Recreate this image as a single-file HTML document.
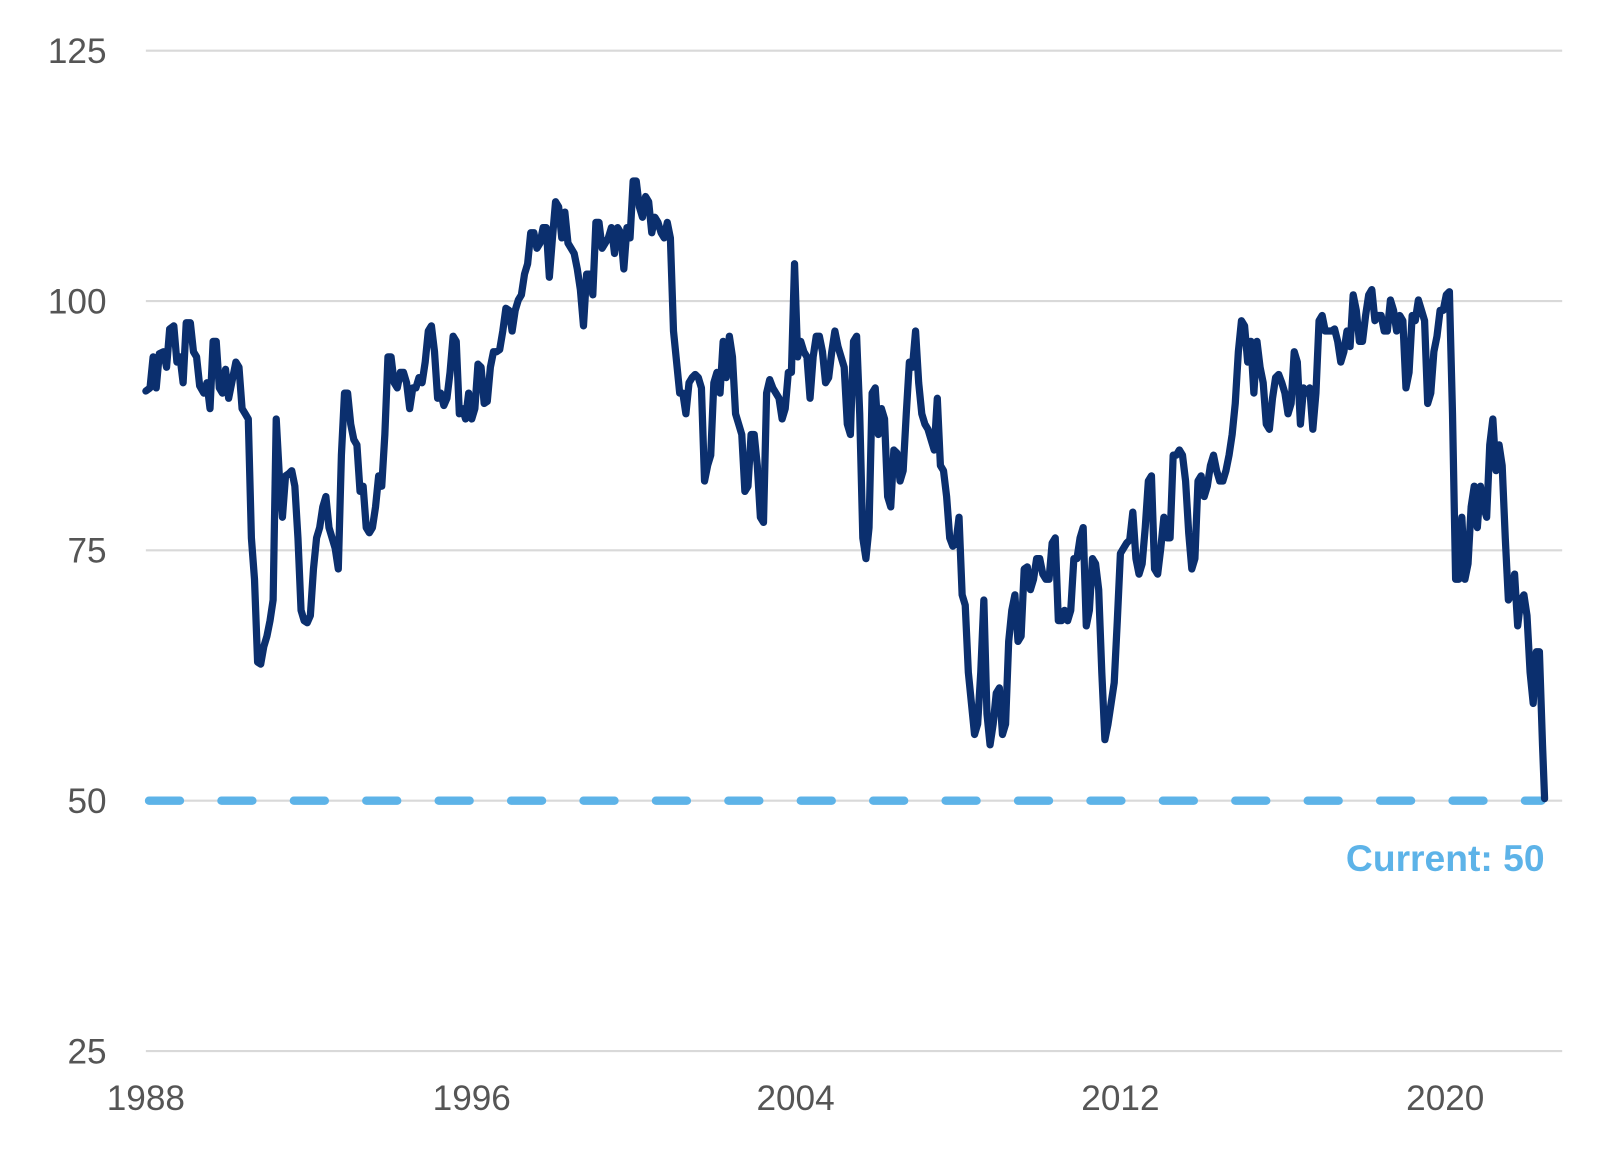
<!DOCTYPE html>
<html><head><style>body{margin:0;background:#fff}svg{display:block}</style></head><body>
<svg width="1617" height="1155" viewBox="0 0 1563 1116.5" preserveAspectRatio="none" font-family="Liberation Sans, sans-serif">
<g stroke="#d9d9d9" stroke-width="2">
<line x1="141" y1="49" x2="1510" y2="49"/><line x1="141" y1="291" x2="1510" y2="291"/><line x1="141" y1="532" x2="1510" y2="532"/><line x1="141" y1="774" x2="1510" y2="774"/><line x1="141" y1="1016" x2="1510" y2="1016"/>
</g>
<g fill="#555" font-size="34" text-anchor="end">
<text x="103" y="61">125</text><text x="103" y="303">100</text><text x="103" y="544">75</text><text x="103" y="786">50</text><text x="103" y="1028">25</text>
</g>
<g fill="#555" font-size="34" text-anchor="middle">
<text x="141" y="1073">1988</text><text x="456" y="1073">1996</text><text x="769" y="1073">2004</text><text x="1083" y="1073">2012</text><text x="1397" y="1073">2020</text>
</g>
<line x1="144" y1="774" x2="1490" y2="774" stroke="#5DB3E8" stroke-width="8" stroke-linecap="round" stroke-dasharray="30 40"/>
<text x="1493" y="842" text-anchor="end" fill="#5DB3E8" font-size="36" font-weight="bold">Current: 50</text>
<polyline fill="none" stroke="#0B2F6E" stroke-width="7" stroke-linejoin="round" stroke-linecap="round" points="141,378 145,375 148,345 151,375 154,342 158,340 161,355 164,318 168,315 171,350 174,345 177,370 180,312 184,312 187,340 190,345 193,373 197,380 200,370 203,395 206,330 209,330 212,375 215,380 218,357 221,385 224,370 228,350 231,355 234,395 237,400 240,405 243,520 246,560 249,640 252,642 255,625 258,615 261,600 264,580 267,405 270,460 273,500 276,460 279,458 282,455 285,470 288,520 291,590 294,600 297,602 300,595 303,550 306,520 309,510 312,490 315,480 318,510 321,520 324,530 327,550 330,440 333,380 336,380 339,410 342,425 345,430 348,475 351,470 354,510 357,515 360,510 363,490 366,460 369,470 372,420 375,345 378,345 381,370 384,375 387,360 390,360 393,370 396,395 399,375 402,375 405,365 408,370 411,350 414,320 417,315 420,340 423,385 426,380 429,392 432,385 435,360 438,325 441,330 444,400 447,395 450,405 453,380 456,405 459,395 462,352 465,355 468,390 471,388 474,355 477,340 480,340 483,338 486,320 489,298 492,300 495,320 498,300 501,290 504,285 507,265 510,255 513,225 516,225 519,240 522,235 525,220 528,220 531,268 534,230 537,195 540,200 543,230 546,205 549,235 552,240 555,245 558,260 561,280 564,315 567,265 570,265 573,285 576,215 579,215 582,240 585,235 588,230 591,220 594,245 597,220 600,225 603,260 606,220 609,230 612,175 615,175 618,200 621,210 624,190 627,195 630,225 633,210 636,215 639,225 642,230 645,215 648,230 651,320 654,350 657,380 660,380 663,400 666,370 669,365 672,362 675,365 678,375 681,465 684,450 687,440 690,370 693,360 696,380 699,330 702,365 705,325 708,345 711,400 714,410 717,420 720,475 723,470 726,420 729,420 732,450 735,500 738,505 741,380 744,367 747,375 750,380 753,385 756,405 759,395 762,360 765,360 768,255 771,345 774,330 777,340 780,345 783,385 786,345 789,325 792,325 795,340 798,370 801,365 804,340 807,320 810,335 813,345 816,355 819,410 822,420 825,330 828,325 831,400 834,520 837,540 840,510 843,380 846,375 849,420 852,395 855,405 858,480 861,490 864,435 867,438 870,465 873,455 876,400 879,350 882,355 885,320 888,370 891,400 894,410 897,415 900,425 903,435 906,385 909,450 912,455 915,480 918,520 921,528 924,525 927,500 930,575 933,585 936,650 939,680 942,710 945,700 948,650 951,580 954,690 957,720 960,700 963,670 966,665 969,710 972,700 975,620 978,590 981,575 984,620 987,615 990,550 993,548 996,570 999,560 1002,540 1005,540 1008,555 1011,560 1014,560 1017,525 1020,520 1023,600 1026,600 1029,590 1032,600 1035,590 1038,540 1041,540 1044,520 1047,510 1050,605 1053,590 1056,540 1059,545 1062,570 1065,650 1068,715 1071,700 1074,680 1077,660 1080,600 1083,535 1086,530 1089,525 1092,522 1095,495 1098,540 1101,555 1104,545 1107,510 1110,465 1113,460 1116,550 1119,555 1122,530 1125,500 1128,520 1131,520 1134,440 1137,440 1140,435 1143,440 1146,465 1149,515 1152,550 1155,540 1158,465 1161,460 1164,480 1167,470 1170,450 1173,440 1176,455 1179,465 1182,465 1185,455 1188,440 1191,420 1194,390 1197,340 1200,310 1203,315 1206,350 1209,330 1212,380 1215,330 1218,355 1221,370 1224,410 1227,415 1230,385 1233,365 1236,362 1239,370 1242,380 1245,400 1248,390 1251,340 1254,350 1257,410 1260,375 1263,380 1266,375 1269,415 1272,380 1275,310 1278,305 1281,320 1284,320 1287,320 1290,318 1293,330 1296,350 1299,340 1302,320 1305,335 1308,285 1311,300 1314,330 1317,330 1320,305 1323,285 1326,280 1329,310 1332,305 1335,305 1338,320 1341,320 1344,290 1347,300 1350,320 1353,305 1356,310 1359,375 1362,360 1365,305 1368,310 1371,290 1374,300 1377,310 1380,390 1383,380 1386,340 1389,325 1392,300 1395,300 1398,285 1401,282 1404,400 1407,560 1410,560 1413,500 1416,560 1419,545 1422,490 1425,470 1428,510 1431,470 1434,490 1437,500 1440,430 1443,405 1446,455 1449,430 1452,450 1455,520 1458,580 1461,575 1464,555 1467,605 1470,580 1473,575 1476,595 1479,650 1482,680 1485,630 1488,630 1491,720 1493,772"/>
</svg>
</body></html>
